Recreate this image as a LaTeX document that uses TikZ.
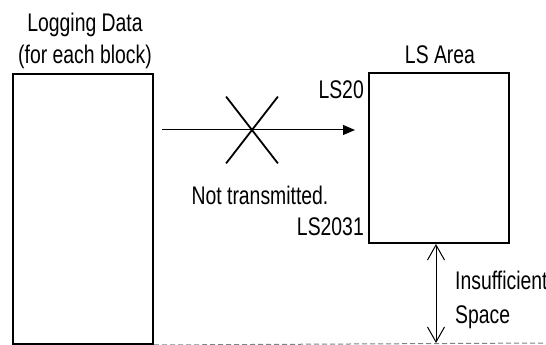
\documentclass[tikz,border=0pt]{standalone}
\usepackage{fontspec}
\setsansfont[FakeStretch=0.76]{Liberation Sans}
\usetikzlibrary{arrows.meta, positioning, shapes.misc}
\definecolor{DashGray}{rgb}{0.5, 0.5, 0.5}

\begin{document}
\begin{tikzpicture}[x=1pt, y=1pt, font=\sffamily\fontsize{25.5}{32}\selectfont,
    area/.style={draw, line width=2pt, inner sep=0pt},
    lbl/.style={inner sep=0pt}]
\useasboundingbox (0,0) rectangle (546,345);

% bloques
\node[area, minimum width=140pt, minimum height=270pt, anchor=north west] (logbox) at (12,272) {};
\node[area, minimum width=140pt, minimum height=170pt, anchor=north west] (lsbox) at (368,273) {};

% titulos
\node[lbl, align=center] (logtitle) at (85,304) {Logging Data\\(for each block)};
\node[lbl] (lsarea) at (440,290) {LS Area};
\node[lbl, anchor=east] (lsfirst) at (364,255) {LS20};
\node[lbl, anchor=east] (lslast) at (364,118) {LS2031};

% transmision cortada
\coordinate (src) at (162,215);
\coordinate (dst) at (355,215);
\draw[line width=1pt, -{Triangle[length=12pt, width=10pt]}] (src) -- (dst);
\node[cross out, draw, line width=1.8pt, minimum width=50pt, minimum height=65pt] (nox) at (252,215) {};
\node[lbl] (notsent) at (260,150) {Not transmitted.};

% espacio insuficiente
\coordinate (floor) at (436,2);
\draw[line width=1pt, {Straight Barb[length=15pt, width=17pt]}-{Straight Barb[length=15pt, width=17pt]}]
    (lsbox.south -| floor) -- (floor);
\draw[DashGray, line width=1pt, dash pattern=on 5pt off 3pt] (logbox.south east) -- (546,2);
\node[lbl, anchor=west, align=left, font=\sffamily\fontsize{25.5}{34}\selectfont] (gap) at (455,45)
    {Insufficient\\Space};

\end{tikzpicture}
\end{document}
